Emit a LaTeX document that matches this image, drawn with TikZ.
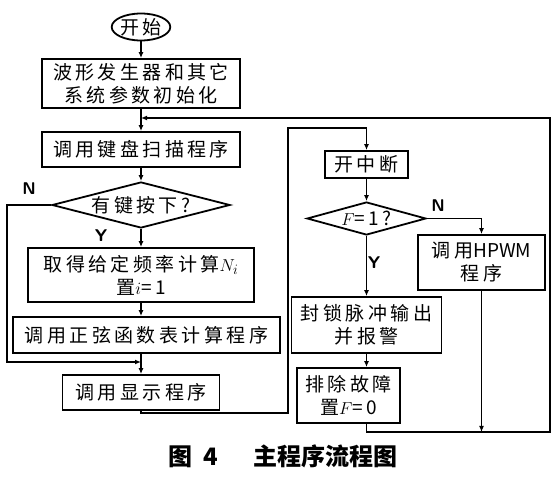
\documentclass[tikz,border=0pt]{standalone}
\usepackage{fontspec}
\newfontfamily\cjk[LetterSpace=18]{Noto Sans CJK SC}
\newfontfamily\cjkcap{Noto Sans CJK SC}
\usetikzlibrary{shapes.geometric, arrows.meta}

\begin{document}
\begin{tikzpicture}[x=1pt, y=-1pt, line width=1.8pt,
    box/.style={draw, rectangle, align=center, inner sep=1pt, font=\cjk\fontsize{19}{23}\selectfont},
    decide/.style={draw, diamond, align=center, inner sep=0pt, font=\cjk\fontsize{19}{19}\selectfont},
    lbl/.style={font=\sffamily\bfseries\fontsize{17}{17}\selectfont},
    flow/.style={-{Latex[length=6pt,width=5pt]}}]
    \useasboundingbox (0,0) rectangle (560,478);

    % left column
    \node[draw, ellipse, inner sep=0pt, minimum width=56, minimum height=27, font=\cjk\fontsize{19}{23}\selectfont] (start) at (141,27) {开始};
    \node[box, minimum width=198, minimum height=49] (init) at (141,83.5) {波形发生器和其它\\系统参数初始化};
    \node[box, minimum width=198, minimum height=35] (scan) at (141,149.5) {调用键盘扫描程序};
    \node[decide, aspect=3.9, minimum width=178, minimum height=46] (keyq) at (141,205) {有键按下?};
    \node[box, minimum width=226, minimum height=54] (freq) at (141,275) {取得给定频率计算$N_i$\\置$i$=1};
    \node[box, minimum width=267, minimum height=36] (sine) at (146.5,335) {调用正弦函数表计算程序};
    \node[box, minimum width=157, minimum height=35] (disp) at (141,392.5) {调用显示程序};

    % right part
    \node[box, minimum width=83, minimum height=27] (intr) at (366.5,164.5) {开中断};
    \node[decide, aspect=3.6, minimum width=119, minimum height=33] (fq) at (366.5,218.5) {$F$=1?};
    \node[box, minimum width=127, minimum height=55] (hpwm) at (481.5,262.5) {调用{\cjkcap HPWM}\\程序};
    \node[box, minimum width=150, minimum height=56] (lock) at (366.5,325) {封锁脉冲输出\\并报警};
    \node[box, minimum width=103, minimum height=55] (clear) at (348.5,395.5) {排除故障\\置$F$=0};

    \coordinate (j1) at (141,118);
    \coordinate (j2) at (141,362);
    \coordinate (lft) at (7,362);
    \coordinate (mid) at (288,413);
    \coordinate (midtop) at (288,128);
    \coordinate (rbot) at (550,432);

    \draw[flow] (start) -- (init);
    \draw[flow] (init.south) -- (scan.north);
    \draw[flow] (scan.south) -- (keyq.north);
    \draw[flow] (keyq.south) -- (freq.north);
    \draw[flow] (freq.south) -- (freq.south |- sine.north);
    \draw[flow] (sine.south -| freq.south) -- (disp.north);
    \draw[flow] (keyq.west) -| (lft) -- (j2);
    \draw[flow] (disp.south) |- (mid) -- (midtop) -| (intr.north);
    \draw[flow] (intr.south) -- (fq.north);
    \draw[flow] (fq.east) -| (hpwm.north);
    \draw[flow] (fq.south) -- (lock.north);
    \draw[flow] (lock.south) -- (lock.south |- clear.north);
    \draw[flow] (hpwm.south) -- (hpwm.south |- rbot);
    \draw[flow] (clear.south -| lock.south) |- (rbot) |- (j1);

    \node[lbl] (keyn) at (29,189) {N};
    \node[lbl] (keyy) at (101,236) {Y};
    \node[lbl] (fqn) at (438,206) {N};
    \node[lbl] (fqy) at (374,263) {Y};

    \node[font=\cjkcap\bfseries\fontsize{24}{24}\selectfont] (caption) at (283,456) {图\ \ 4\quad\ \ 主程序流程图};
\end{tikzpicture}
\end{document}
